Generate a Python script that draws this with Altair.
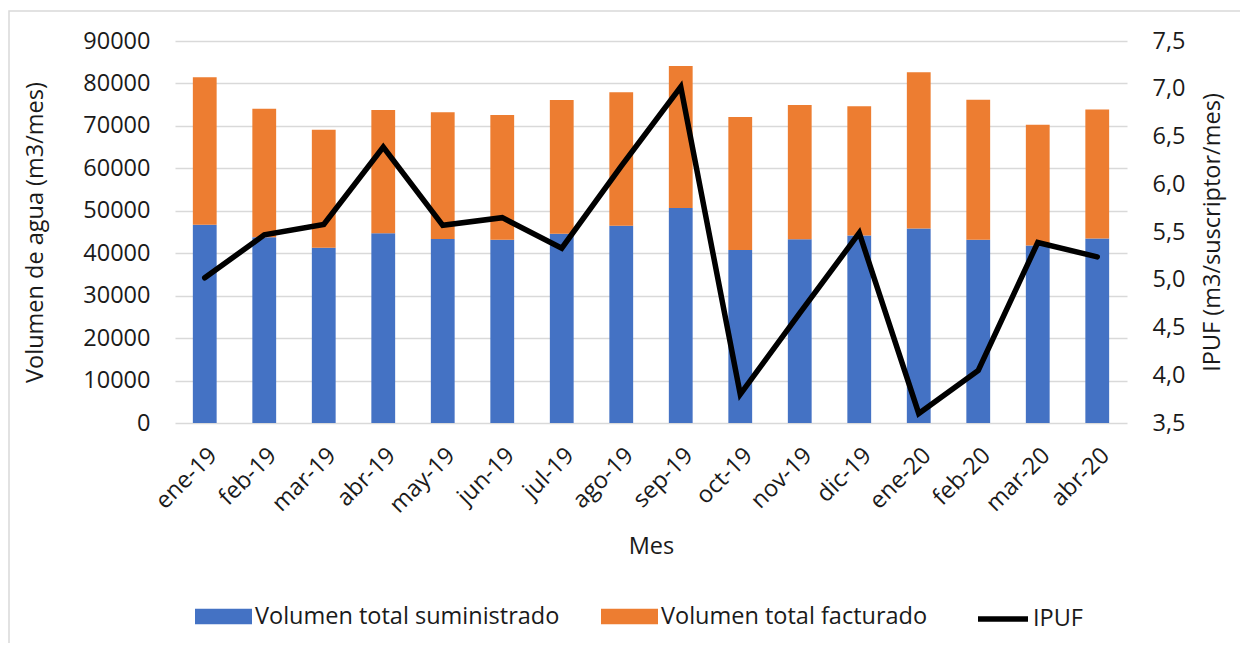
import altair as alt
import pandas as pd

meses = ["ene-19", "feb-19", "mar-19", "abr-19", "may-19", "jun-19", "jul-19", "ago-19",
         "sep-19", "oct-19", "nov-19", "dic-19", "ene-20", "feb-20", "mar-20", "abr-20"]
suministrado = [46700, 43750, 41300, 44700, 43350, 43200, 44600, 46500,
                50650, 40750, 43300, 44150, 45800, 43200, 41800, 43450]
facturado = [34750, 30300, 27800, 29050, 29850, 29350, 31500, 31400,
             33450, 31350, 31650, 30450, 36850, 32950, 28450, 30400]
ipuf = [5.02, 5.47, 5.58, 6.39, 5.57, 5.65, 5.33, 6.19,
        7.02, 3.80, 4.65, 5.49, 3.60, 4.05, 5.39, 5.24]

S1 = "Volumen total suministrado"
S2 = "Volumen total facturado"

rows = []
for m, a, b in zip(meses, suministrado, facturado):
    rows.append({"mes": m, "serie": S1, "valor": a, "orden": 0})
    rows.append({"mes": m, "serie": S2, "valor": b, "orden": 1})
df_bars = pd.DataFrame(rows)
df_line = pd.DataFrame({"mes": meses, "ipuf": ipuf, "serie": ["IPUF"] * len(meses)})

FONT = "Open Sans"
FS = 23.5
TXT = "#1a1a1a"
GRID = "#d9d9d9"

x_enc = alt.X("mes:N", sort=meses,
              scale=alt.Scale(paddingInner=0.6, paddingOuter=0.3),
              axis=alt.Axis(title="Mes", labelAngle=315, labelPadding=20,
                            domain=False, ticks=False, grid=False,
                            titleX=476, titleY=123, titleBaseline="middle"))

frame = alt.Chart(pd.DataFrame({"a": [0]})).mark_rect(
    fill="white", fillOpacity=0, stroke=GRID, strokeWidth=1.5
).encode(x=alt.value(-166), x2=alt.value(1100), y=alt.value(-30), y2=alt.value(700))

bars = alt.Chart(df_bars).mark_bar().encode(
    x=x_enc,
    y=alt.Y("valor:Q", stack="zero",
            scale=alt.Scale(domain=[0, 90000], nice=False),
            axis=alt.Axis(title="Volumen de agua (m3/mes)", format="d",
                          values=list(range(0, 90001, 10000)),
                          labelPadding=25, domain=False, ticks=False,
                          grid=True, gridColor=GRID, gridWidth=1.3,
                          titleAngle=270, titleX=-140, titleY=191,
                          titleAlign="center", titleBaseline="middle")),
    color=alt.Color("serie:N",
                    scale=alt.Scale(domain=[S1, S2], range=["#4472c4", "#ed7d31"]),
                    legend=alt.Legend(title=None, orient="none", direction="horizontal",
                                      legendX=20, legendY=547, columnPadding=41,
                                      symbolType="M-1,-0.27L1,-0.27L1,0.27L-1,0.27Z",
                                      symbolSize=3249, symbolStrokeWidth=0,
                                      symbolOpacity=1, labelOffset=3)),
    order=alt.Order("orden:Q"),
)

line = alt.Chart(df_line).mark_line(strokeWidth=5.5, strokeCap="round").encode(
    x=x_enc,
    y=alt.Y("ipuf:Q", scale=alt.Scale(domain=[3.5, 7.5], nice=False, zero=False),
            axis=alt.Axis(title="IPUF (m3/suscriptor/mes)", orient="right",
                          values=[3.5, 4.0, 4.5, 5.0, 5.5, 6.0, 6.5, 7.0, 7.5],
                          labelExpr="replace(format(datum.value, '.1f'), '.', ',')",
                          labelPadding=25, domain=False, ticks=False, grid=False,
                          titleAngle=270, titleX=85, titleY=191,
                          titleAlign="center", titleBaseline="middle")),
    color=alt.Color("serie:N",
                    scale=alt.Scale(domain=["IPUF"], range=["#000000"]),
                    legend=alt.Legend(title=None, orient="none", direction="horizontal",
                                      legendX=800, legendY=550,
                                      symbolType="stroke", symbolSize=2500,
                                      symbolStrokeWidth=5.5, labelOffset=2)),
)

chart = alt.layer(frame, bars, line).resolve_scale(
    y="independent", color="independent"
).properties(
    width=952, height=382,
    autosize=alt.AutoSizeParams(type="none"),
    padding={"left": 167, "top": 33, "right": 113, "bottom": 220},
).configure_view(stroke=None).configure_axis(
    labelFont=FONT, titleFont=FONT, labelFontSize=FS, titleFontSize=FS,
    labelColor=TXT, titleColor=TXT, titleFontWeight="normal",
).configure_legend(
    labelFont=FONT, labelFontSize=FS, labelColor=TXT, labelLimit=400,
)

chart.save("out.html", embed_options={"renderer": "svg", "actions": False})
